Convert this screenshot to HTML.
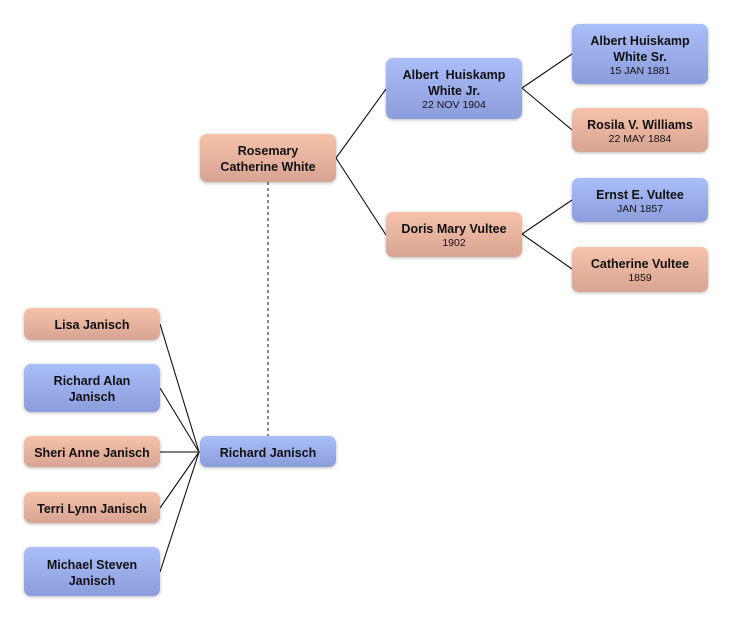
<!DOCTYPE html>
<html><head><meta charset="utf-8"><style>
html,body{margin:0;padding:0;background:#fff;}
body{width:732px;height:620px;position:relative;overflow:hidden;font-family:"Liberation Sans",Arial,sans-serif;}
.b{position:absolute;width:136px;border-radius:7px;box-shadow:0 1px 3px rgba(0,0,0,0.28);display:flex;flex-direction:column;justify-content:center;align-items:center;text-align:center;color:#111;box-sizing:border-box;padding-top:2px;}
.m{background:linear-gradient(#aabef9,#8b9ddb);}
.f{background:linear-gradient(#f6c2a9,#d7a493);}
.n{font-weight:bold;font-size:12.5px;line-height:16px;}
.d{font-size:10.5px;line-height:13px;}
svg{position:absolute;left:0;top:0;}
</style></head><body>
<svg width="732" height="620">
<g stroke="#111" stroke-width="1.1" fill="none">
<line x1="336" y1="158" x2="386" y2="89"/>
<line x1="336" y1="158" x2="386" y2="235"/>
<line x1="522" y1="88" x2="572" y2="54"/>
<line x1="522" y1="88" x2="572" y2="130"/>
<line x1="522" y1="234" x2="572" y2="200"/>
<line x1="522" y1="234" x2="572" y2="269"/>
<line x1="160" y1="324" x2="199" y2="452"/>
<line x1="160" y1="388" x2="199" y2="452"/>
<line x1="160" y1="508" x2="199" y2="452"/>
<line x1="160" y1="572" x2="199" y2="452"/>
</g>
<line x1="160" y1="452" x2="200" y2="452" stroke="#555" stroke-width="1.5"/>
<line x1="268" y1="182" x2="268" y2="436" stroke="#888" stroke-width="2" stroke-dasharray="3,3"/>
</svg>

<div class="b f" style="left:200px;top:134px;height:48px;"><div class="n">Rosemary<br>Catherine White</div></div>
<div class="b m" style="left:386px;top:58px;height:61px;"><div class="n">Albert&nbsp; Huiskamp<br>White Jr.</div><div class="d">22 NOV 1904</div></div>
<div class="b f" style="left:386px;top:212px;height:45px;"><div class="n">Doris Mary Vultee</div><div class="d">1902</div></div>

<div class="b m" style="left:572px;top:24px;height:60px;"><div class="n">Albert Huiskamp<br>White Sr.</div><div class="d">15 JAN 1881</div></div>
<div class="b f" style="left:572px;top:108px;height:44px;"><div class="n">Rosila V. Williams</div><div class="d">22 MAY 1884</div></div>
<div class="b m" style="left:572px;top:178px;height:44px;"><div class="n">Ernst E. Vultee</div><div class="d">JAN 1857</div></div>
<div class="b f" style="left:572px;top:247px;height:45px;"><div class="n">Catherine Vultee</div><div class="d">1859</div></div>

<div class="b f" style="left:24px;top:308px;height:32px;"><div class="n">Lisa Janisch</div></div>
<div class="b m" style="left:24px;top:364px;height:48px;"><div class="n">Richard Alan<br>Janisch</div></div>
<div class="b f" style="left:24px;top:436px;height:31px;"><div class="n">Sheri Anne Janisch</div></div>
<div class="b f" style="left:24px;top:492px;height:31px;"><div class="n">Terri Lynn Janisch</div></div>
<div class="b m" style="left:24px;top:547px;height:49px;"><div class="n">Michael Steven<br>Janisch</div></div>

<div class="b m" style="left:200px;top:436px;height:31px;"><div class="n">Richard Janisch</div></div>
</body></html>
